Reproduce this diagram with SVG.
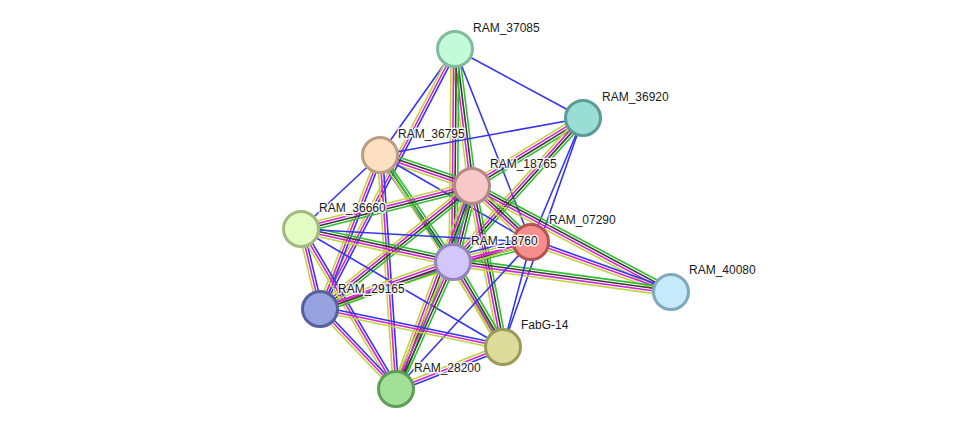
<svg xmlns="http://www.w3.org/2000/svg" xmlns:xlink="http://www.w3.org/1999/xlink" width="976" height="435" viewBox="0 0 976 435">
<style>
.g{stroke:#2fbf2f}.k{stroke:#3a3a3a}.m{stroke:#d622d6}.y{stroke:#c2d43c}.b{stroke:#3434f2}.c{stroke:#20c0d8}
line{stroke-width:1.6;fill:none;vector-effect:non-scaling-stroke}
.node circle{stroke-width:3}
.lbl{font-family:"Liberation Sans",Arial,sans-serif;font-size:12px;fill:#1a1a1a;stroke:#fff;stroke-width:3;stroke-opacity:0.85;paint-order:stroke;stroke-linejoin:round}
</style>
<defs>
<g id="Bb"><line class="b" x1="0" y1="0" x2="1" y2="0"/></g>
<g id="Bmy"><line class="b" x1="0" y1="-2.6" x2="1" y2="-2.6"/><line class="m" x1="0" y1="0" x2="1" y2="0"/><line class="y" x1="0" y1="2.6" x2="1" y2="2.6"/></g>
<g id="Bgkmy"><line class="g" x1="0" y1="-3.9" x2="1" y2="-3.9"/><line class="k" x1="0" y1="-1.3" x2="1" y2="-1.3"/><line class="m" x1="0" y1="1.3" x2="1" y2="1.3"/><line class="y" x1="0" y1="3.9" x2="1" y2="3.9"/></g>
<g id="Bgkmcy"><line class="g" x1="0" y1="-5.2" x2="1" y2="-5.2"/><line class="k" x1="0" y1="-2.6" x2="1" y2="-2.6"/><line class="m" x1="0" y1="0" x2="1" y2="0"/><line class="c" x1="0" y1="2.6" x2="1" y2="2.6"/><line class="y" x1="0" y1="5.2" x2="1" y2="5.2"/></g>
<g id="Bgkmyb"><line class="g" x1="0" y1="-5.2" x2="1" y2="-5.2"/><line class="k" x1="0" y1="-2.6" x2="1" y2="-2.6"/><line class="m" x1="0" y1="0" x2="1" y2="0"/><line class="y" x1="0" y1="2.6" x2="1" y2="2.6"/><line class="b" x1="0" y1="5.2" x2="1" y2="5.2"/></g>
<g id="Bgkb"><line class="g" x1="0" y1="-2.6" x2="1" y2="-2.6"/><line class="k" x1="0" y1="0" x2="1" y2="0"/><line class="b" x1="0" y1="2.6" x2="1" y2="2.6"/></g>
<g id="Bgy"><line class="g" x1="0" y1="-1.3" x2="1" y2="-1.3"/><line class="y" x1="0" y1="1.3" x2="1" y2="1.3"/></g>
<g id="Bmy2"><line class="m" x1="0" y1="-1.3" x2="1" y2="-1.3"/><line class="y" x1="0" y1="1.3" x2="1" y2="1.3"/></g>
</defs>
<rect width="976" height="435" fill="#fff"/>
<g id="edges">
<use xlink:href="#Bb" href="#Bb" transform="matrix(128 69 -0.4745 0.8803 455 49)"/>
<use xlink:href="#Bb" href="#Bb" transform="matrix(-75 106 -0.8163 -0.5776 455 49)"/>
<use xlink:href="#Bmy" href="#Bmy" transform="matrix(-135 260 -0.8875 -0.4608 455 49)"/>
<use xlink:href="#Bgkmy" href="#Bgkmy" transform="matrix(17 137 -0.9924 0.1231 455 49)"/>
<use xlink:href="#Bgkmy" href="#Bgkmy" transform="matrix(-2 213 -1 -0.0094 455 49)"/>
<use xlink:href="#Bb" href="#Bb" transform="matrix(76 193 -0.9305 0.3664 455 49)"/>
<use xlink:href="#Bb" href="#Bb" transform="matrix(-203 37 -0.1793 -0.9838 583 118)"/>
<use xlink:href="#Bgkmy" href="#Bgkmy" transform="matrix(-111 68 -0.5224 -0.8527 583 118)"/>
<use xlink:href="#Bgkmy" href="#Bgkmy" transform="matrix(-130 144 -0.7423 -0.6701 583 118)"/>
<use xlink:href="#Bb" href="#Bb" transform="matrix(-52 124 -0.9222 -0.3867 583 118)"/>
<use xlink:href="#Bb" href="#Bb" transform="matrix(-80 229 -0.9441 -0.3298 583 118)"/>
<use xlink:href="#Bgkmy" href="#Bgkmy" transform="matrix(92 31 -0.3193 0.9477 380 155)"/>
<use xlink:href="#Bb" href="#Bb" transform="matrix(-79 74 -0.6836 -0.7298 380 155)"/>
<use xlink:href="#Bgkb" href="#Bgkb" transform="matrix(73 107 -0.8261 0.5636 380 155)"/>
<use xlink:href="#Bmy" href="#Bmy" transform="matrix(-60 154 -0.9318 -0.3630 380 155)"/>
<use xlink:href="#Bmy" href="#Bmy" transform="matrix(16 234 -0.9977 0.0682 380 155)"/>
<use xlink:href="#Bb" href="#Bb" transform="matrix(151 87 -0.4992 0.8665 380 155)"/>
<use xlink:href="#Bgy" href="#Bgy" transform="matrix(123 192 -0.8420 0.5394 380 155)"/>
<use xlink:href="#Bgkmy" href="#Bgkmy" transform="matrix(-171 43 -0.2439 -0.9698 472 186)"/>
<use xlink:href="#Bgkmcy" href="#Bgkmcy" transform="matrix(-19 76 -0.9701 -0.2425 472 186)"/>
<use xlink:href="#Bgkmy" href="#Bgkmy" transform="matrix(59 56 -0.6884 0.7253 472 186)"/>
<use xlink:href="#Bgkmy" href="#Bgkmy" transform="matrix(199 106 -0.4701 0.8826 472 186)"/>
<use xlink:href="#Bgkmy" href="#Bgkmy" transform="matrix(-152 123 -0.6291 -0.7774 472 186)"/>
<use xlink:href="#Bgkmy" href="#Bgkmy" transform="matrix(31 161 -0.9819 0.1891 472 186)"/>
<use xlink:href="#Bgkmy" href="#Bgkmy" transform="matrix(-76 203 -0.9365 -0.3506 472 186)"/>
<use xlink:href="#Bgkmy" href="#Bgkmy" transform="matrix(152 33 -0.2122 0.9772 301 229)"/>
<use xlink:href="#Bb" href="#Bb" transform="matrix(230 13 -0.0564 0.9984 301 229)"/>
<use xlink:href="#Bmy" href="#Bmy" transform="matrix(19 80 -0.9729 0.2311 301 229)"/>
<use xlink:href="#Bmy" href="#Bmy" transform="matrix(95 160 -0.8599 0.5105 301 229)"/>
<use xlink:href="#Bb" href="#Bb" transform="matrix(202 118 -0.5044 0.8635 301 229)"/>
<use xlink:href="#Bgkmyb" href="#Bgkmyb" transform="matrix(-78 20 -0.2484 -0.9687 531 242)"/>
<use xlink:href="#Bmy" href="#Bmy" transform="matrix(140 50 -0.3363 0.9418 531 242)"/>
<use xlink:href="#Bmy2" href="#Bmy2" transform="matrix(211 -67 0.3026 0.9531 320 309)"/>
<use xlink:href="#Bgkmy" href="#Bgkmy" transform="matrix(218 30 -0.1363 0.9907 453 262)"/>
<use xlink:href="#Bgkmy" href="#Bgkmy" transform="matrix(-133 47 -0.3332 -0.9429 453 262)"/>
<use xlink:href="#Bgkmy" href="#Bgkmy" transform="matrix(50 85 -0.8619 0.5070 453 262)"/>
<use xlink:href="#Bgkmy" href="#Bgkmy" transform="matrix(-57 127 -0.9123 -0.4095 453 262)"/>
<use xlink:href="#Bb" href="#Bb" transform="matrix(-28 105 -0.9662 -0.2577 531 242)"/>
<use xlink:href="#Bb" href="#Bb" transform="matrix(-135 147 -0.7366 -0.6764 531 242)"/>
<use xlink:href="#Bmy" href="#Bmy" transform="matrix(183 38 -0.2033 0.9791 320 309)"/>
<use xlink:href="#Bmy" href="#Bmy" transform="matrix(76 80 -0.7250 0.6887 320 309)"/>
<use xlink:href="#Bmy" href="#Bmy" transform="matrix(-107 42 -0.3654 -0.9309 503 347)"/>
</g>
<g id="RAM_37085" class="node"><circle cx="455" cy="49" r="17.5" fill="#c3fad8" stroke="#7fbb9c"/><text class="lbl" x="473" y="32">RAM_37085</text></g>
<g id="RAM_36920" class="node"><circle cx="583" cy="118" r="17.5" fill="#99ddd5" stroke="#5a9c95"/><text class="lbl" x="602" y="101">RAM_36920</text></g>
<g id="RAM_36795" class="node"><circle cx="380" cy="155" r="17.5" fill="#fde0c2" stroke="#bb9e82"/><text class="lbl" x="398" y="138">RAM_36795</text></g>
<g id="RAM_18765" class="node"><circle cx="472" cy="186" r="17.5" fill="#f6c8c8" stroke="#b58888"/><text class="lbl" x="490" y="168">RAM_18765</text></g>
<g id="RAM_36660" class="node"><circle cx="301" cy="229" r="17.5" fill="#e2fcc2" stroke="#a2ba82"/><text class="lbl" x="319" y="212">RAM_36660</text></g>
<g id="RAM_07290" class="node"><circle cx="531" cy="242" r="17.5" fill="#f68e8e" stroke="#b45454"/><text class="lbl" x="549" y="224">RAM_07290</text></g>
<g id="RAM_18760" class="node"><circle cx="453" cy="262" r="17.5" fill="#d2c6fb" stroke="#9484bc"/><text class="lbl" x="471" y="245">RAM_18760</text></g>
<g id="RAM_40080" class="node"><circle cx="671" cy="292" r="17.5" fill="#c6e9fc" stroke="#80a8be"/><text class="lbl" x="689" y="274">RAM_40080</text></g>
<g id="RAM_29165" class="node"><circle cx="320" cy="309" r="17.5" fill="#97a2e0" stroke="#56609e"/><text class="lbl" x="338" y="293">RAM_29165</text></g>
<g id="FabG-14" class="node"><circle cx="503" cy="347" r="17.5" fill="#dedc9a" stroke="#9c9a58"/><text class="lbl" x="521" y="329">FabG-14</text></g>
<g id="RAM_28200" class="node"><circle cx="396" cy="389" r="17.5" fill="#a2e098" stroke="#5f9e56"/><text class="lbl" x="414" y="372">RAM_28200</text></g>
</svg>
